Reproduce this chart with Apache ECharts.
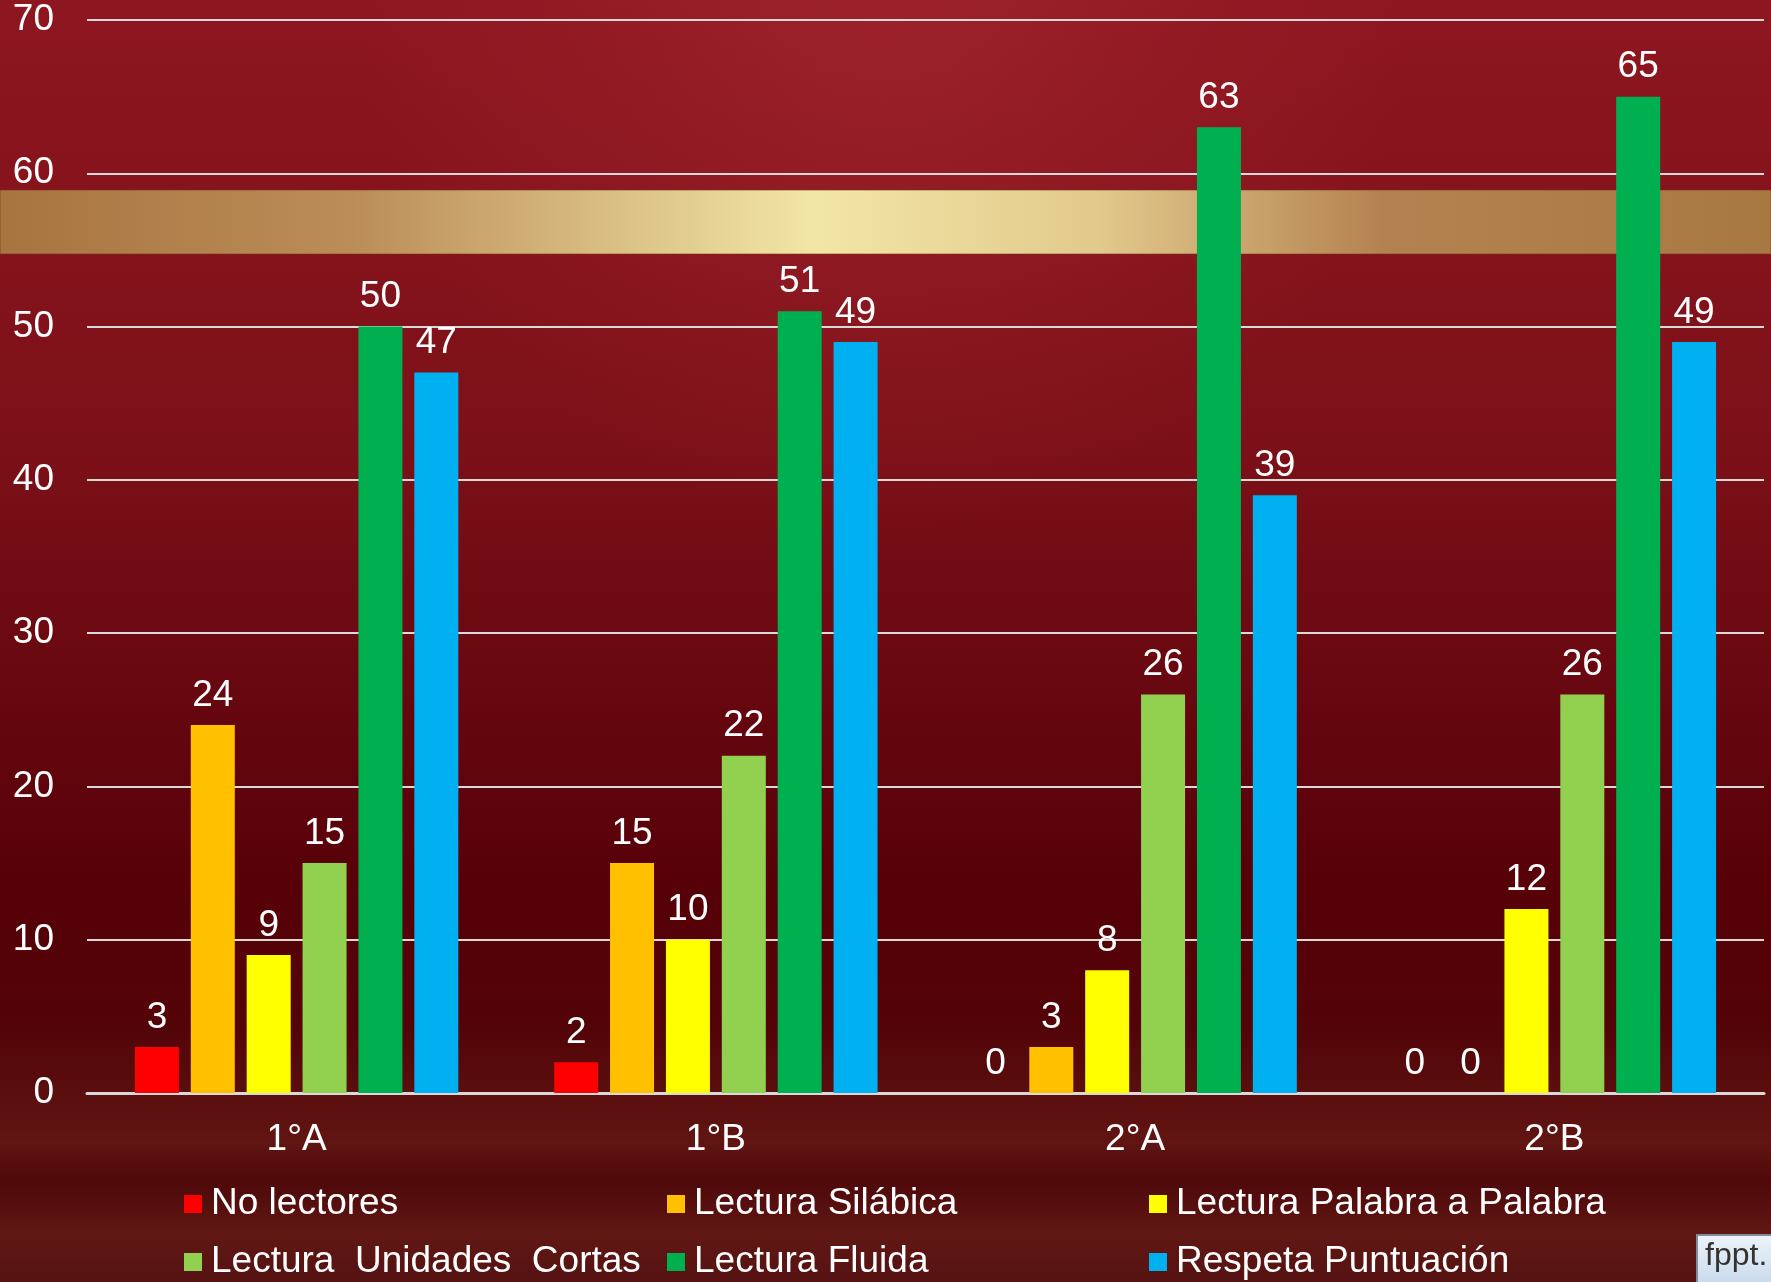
<!DOCTYPE html>
<html>
<head>
<meta charset="utf-8">
<title>Lectura</title>
<script src="https://cdn.jsdelivr.net/npm/echarts@6/dist/echarts.min.js"></script>
<style>
  html, body { margin: 0; padding: 0; background: #5a0810; }
  #myChart { width: 1771px; height: 1282px; }
</style>
</head>
<body>
<div id="myChart"></div>
<script>
// categorias (grupos)
var grupos = ['1°A', '1°B', '2°A', '2°B'];
// valores por serie
var noLectores = [3, 2, 0, 0];
var silabica = [24, 15, 3, 0];
var palabraPalabra = [9, 10, 8, 12];
var unidadesCortas = [15, 22, 26, 26];
var fluida = [50, 51, 63, 65];
var puntuacion = [47, 49, 39, 49];
var nombres = ['No lectores', 'Lectura Silábica', 'Lectura Palabra a Palabra',
    'Lectura  Unidades  Cortas', 'Lectura Fluida', 'Respeta Puntuación'];
var colores = ['#ff0000', '#ffc000', '#ffff00', '#92d050', '#00b050', '#00b0f0'];
var valores = [noLectores, silabica, palabraPalabra, unidadesCortas, fluida, puntuacion];

var fuente = '"Liberation Sans", Arial, sans-serif';

var series = nombres.map(function (n, i) {
    return {
        name: n,
        type: 'bar',
        barWidth: 44,
        barGap: '27%',
        itemStyle: { color: colores[i] },
        label: {
            show: true,
            position: 'top',
            distance: 11,
            color: '#ffffff',
            fontSize: 37,
            fontFamily: fuente
        },
        data: valores[i]
    };
});

// leyenda: 3 columnas x 2 filas, un componente por elemento
var colX = [184, 667, 1149];
var filaY = [1184, 1242];
var leyendas = nombres.map(function (n, i) {
    return {
        left: colX[i % 3],
        top: filaY[Math.floor(i / 3)],
        padding: 0,
        itemWidth: 18,
        itemHeight: 18,
        icon: 'rect',
        textStyle: { color: '#ffffff', fontSize: 37, fontFamily: fuente, lineHeight: 40, padding: [0, 0, 0, 4] },
        data: [n]
    };
});

var myChart = echarts.init(document.getElementById('myChart'));
myChart.setOption({
    backgroundColor: '#5e0a10',
    animation: false,
    textStyle: { fontFamily: fuente },
    graphic: [
        {
            type: 'rect', z: -10, silent: true,
            shape: { x: 0, y: 0, width: 1771, height: 1282 },
            style: {
                fill: new echarts.graphic.LinearGradient(0, 0, 0, 1, [
                    { offset: 0, color: '#8e1620' },
                    { offset: 0.35, color: '#7c1018' },
                    { offset: 0.7, color: '#560008' },
                    { offset: 0.85, color: '#520608' },
                    { offset: 1, color: '#4e0c0c' }
                ])
            }
        },
        {
            type: 'rect', z: -9, silent: true,
            shape: { x: 0, y: 0, width: 1771, height: 700 },
            style: {
                fill: new echarts.graphic.RadialGradient(0.5, 0, 0.75, [
                    { offset: 0, color: 'rgba(165,40,48,0.6)' },
                    { offset: 1, color: 'rgba(165,40,48,0)' }
                ])
            }
        },
        {
            // tono marron de la parte baja, entra suave
            type: 'rect', z: -9, silent: true,
            shape: { x: 0, y: 1030, width: 1771, height: 252 },
            style: {
                fill: new echarts.graphic.LinearGradient(0, 0, 0, 1, [
                    { offset: 0, color: 'rgba(115,38,30,0)' },
                    { offset: 0.45, color: 'rgba(115,38,30,0.45)' },
                    { offset: 0.6, color: 'rgba(80,10,12,0.3)' },
                    { offset: 0.8, color: 'rgba(115,38,30,0.5)' },
                    { offset: 1, color: 'rgba(100,30,28,0.35)' }
                ])
            }
        },
        {
            type: 'rect', z: -8, silent: true,
            shape: { x: 0, y: 190, width: 1771, height: 64 },
            style: {
                fill: new echarts.graphic.LinearGradient(0, 0, 1, 0, [
                    { offset: 0, color: '#a87440' },
                    { offset: 0.2, color: '#bb8d58' },
                    { offset: 0.46, color: '#f2e6a6' },
                    { offset: 0.62, color: '#e2c98c' },
                    { offset: 0.78, color: '#b48250' },
                    { offset: 1, color: '#a87842' }
                ]),
                stroke: 'rgba(120,50,30,0.6)',
                lineWidth: 1
            }
        },
        {
            type: 'rect', z: 5, silent: true,
            shape: { x: 1697, y: 1235, width: 80, height: 52 },
            style: {
                fill: new echarts.graphic.LinearGradient(0, 0, 0, 1, [
                    { offset: 0, color: '#eef4fa' },
                    { offset: 1, color: '#c6d8ea' }
                ]),
                stroke: '#7d8d9c',
                lineWidth: 2
            }
        },
        {
            type: 'text', z: 6, silent: true,
            x: 1705, y: 1240,
            style: { text: 'fppt.', fill: '#333333', fontSize: 32, fontFamily: fuente }
        }
    ],
    legend: leyendas,
    grid: {
        left: 87,
        right: 7,
        top: 20,
        bottom: 189
    },
    xAxis: {
        type: 'category',
        data: grupos,
        axisLine: { show: true, lineStyle: { color: '#d9d9d9', width: 3 } },
        axisTick: { show: false },
        axisLabel: { color: '#ffffff', fontSize: 37, margin: 28, fontFamily: fuente }
    },
    yAxis: {
        type: 'value',
        min: 0,
        max: 70,
        interval: 10,
        axisLine: { show: false },
        axisTick: { show: false },
        axisLabel: { color: '#ffffff', fontSize: 37, margin: 33, fontFamily: fuente },
        splitLine: { show: true, lineStyle: { color: '#d9d9d9', width: 2 } }
    },
    series: series
});
</script>
</body>
</html>
